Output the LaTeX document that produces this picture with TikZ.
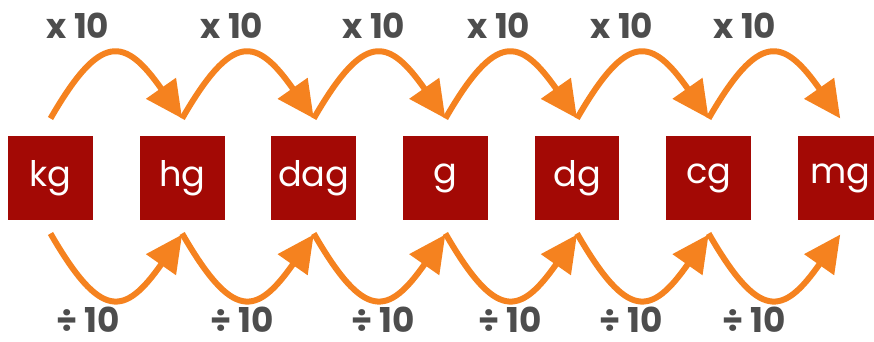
\documentclass[tikz,border=0pt]{standalone}
\usepackage{fontspec}
\setmainfont{Poppins}
\usetikzlibrary{positioning,arrows.meta}
\definecolor{unitred}{HTML}{A30905}
\definecolor{steporange}{HTML}{F5821F}
\definecolor{labelgray}{HTML}{4D4D4D}

\begin{document}
\begin{tikzpicture}[
  x=0.02cm, y=-0.02cm,
  unit/.style={fill=unitred, minimum size=1.7cm, inner sep=0pt, outer sep=0pt,
               text=white, font=\fontsize{20}{24}\selectfont},
  hop/.style={-{Triangle[length=21pt,width=20pt]}, line width=3.4pt,
              draw=steporange, looseness=1.95},
  lbl/.style={font=\bfseries\fontsize{19.5}{22}\selectfont, text=labelgray,
              inner sep=0pt},
]
\useasboundingbox (0,0) rectangle (874,341);

% ---- Unit boxes ----
\node[unit] (kg) at (50.5,178) {kg};
\node[unit, right=0.933cm of kg] (hg) {hg};
\node[unit, right=0.933cm of hg] (dag) {dag};
\node[unit, right=0.933cm of dag] (g) {g};
\node[unit, right=0.933cm of g] (dg) {dg};
\node[unit, right=0.933cm of dg] (cg) {cg};
\node[unit, right=0.933cm of cg] (mg) {mg};

% ---- Arcs over the boxes ----
\draw[hop] ([yshift=0.34cm]kg.north) to[out=60,in=125] ([yshift=0.34cm]hg.north);
\draw[hop] ([yshift=0.34cm]hg.north) to[out=60,in=125] ([yshift=0.34cm]dag.north);
\draw[hop] ([yshift=0.34cm]dag.north) to[out=60,in=125] ([yshift=0.34cm]g.north);
\draw[hop] ([yshift=0.34cm]g.north) to[out=60,in=125] ([yshift=0.34cm]dg.north);
\draw[hop] ([yshift=0.34cm]dg.north) to[out=60,in=125] ([yshift=0.34cm]cg.north);
\draw[hop] ([yshift=0.34cm]cg.north) to[out=60,in=125] ([yshift=0.34cm]mg.north);

% ---- Arcs under the boxes ----
\draw[hop] ([yshift=-0.26cm]kg.south) to[out=-60,in=-125] ([yshift=-0.28cm]hg.south);
\draw[hop] ([yshift=-0.26cm]hg.south) to[out=-60,in=-125] ([yshift=-0.28cm]dag.south);
\draw[hop] ([yshift=-0.26cm]dag.south) to[out=-60,in=-125] ([yshift=-0.28cm]g.south);
\draw[hop] ([yshift=-0.26cm]g.south) to[out=-60,in=-125] ([yshift=-0.28cm]dg.south);
\draw[hop] ([yshift=-0.26cm]dg.south) to[out=-60,in=-125] ([yshift=-0.28cm]cg.south);
\draw[hop] ([yshift=-0.26cm]cg.south) to[out=-60,in=-125] ([yshift=-0.28cm]mg.south);

% ---- Factors ----
\node[lbl] (t1) at (78,26) {x 10};
\node[lbl] (t2) at (232,26) {x 10};
\node[lbl] (t3) at (374,26) {x 10};
\node[lbl] (t4) at (499,26) {x 10};
\node[lbl] (t5) at (622,26) {x 10};
\node[lbl] (t6) at (745,26) {x 10};

\node[lbl] (b1) at (88,320) {÷ 10};
\node[lbl] (b2) at (242,320) {÷ 10};
\node[lbl] (b3) at (383,320) {÷ 10};
\node[lbl] (b4) at (510,320) {÷ 10};
\node[lbl] (b5) at (631,320) {÷ 10};
\node[lbl] (b6) at (754,320) {÷ 10};

\end{tikzpicture}
\end{document}
